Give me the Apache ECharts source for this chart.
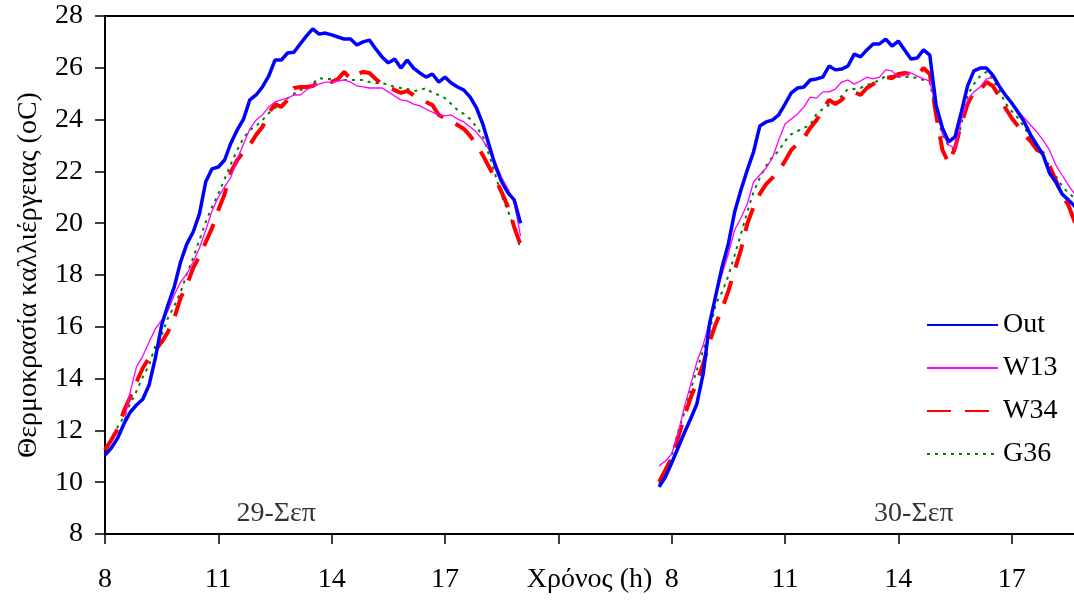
<!DOCTYPE html>
<html><head><meta charset="utf-8">
<script src="https://cdn.jsdelivr.net/npm/echarts@6/dist/echarts.min.js"></script>
<style>html,body{margin:0;padding:0;background:#fff}#c{width:1074px;height:600px}</style>
</head><body><div id="c"></div>
<script>
// ---- data ----
const seriesNames = ['Out', 'W13', 'W34', 'G36'];
const seriesColors = ['#0000FF', '#FF00FF', '#FF0000', '#008000'];
const day1StartHour = 8;          // 29-Σεπ, 08:00 .. 19:00
const day2StartHour = 7 + 40 / 60; // 30-Σεπ, 07:40 ..
const sampleStepHours = 10 / 60;
const day2AxisShift = 15;          // axis offset of day 2 (overnight gap compressed)
const tickLabels = ['8', '11', '14', '17', '', '8', '11', '14', '17'];
const dayLabels = [
  { name: '29-Σεπ', value: [4.53, 8.8] },
  { name: '30-Σεπ', value: [21.41, 8.8] }
];

const day1Out = [11.05,11.32,11.7,12.25,12.7,12.98,13.2,13.75,14.8,16.07,16.84,17.54,18.5,19.2,19.66,20.36,21.6,22.1,22.17,22.44,23.1,23.6,24.02,24.76,24.95,25.26,25.68,26.3,26.3,26.57,26.6,26.92,27.23,27.5,27.3,27.34,27.27,27.19,27.11,27.11,26.88,27.0,27.07,26.73,26.42,26.19,26.34,25.99,26.3,25.99,25.8,25.64,25.76,25.45,25.64,25.41,25.26,25.14,24.87,24.45,23.83,23.02,22.21,21.6,21.17,20.9,20.0];
const day1W13 = [11.05,11.28,11.63,12.29,13.48,14.45,14.87,15.41,15.92,16.26,16.61,17.23,17.73,18.04,18.5,19.04,19.74,20.47,21.01,21.4,21.78,22.48,23.06,23.64,23.98,24.18,24.49,24.68,24.76,24.83,24.95,24.95,25.14,25.3,25.37,25.45,25.45,25.49,25.53,25.45,25.3,25.26,25.22,25.22,25.22,25.07,24.91,24.76,24.72,24.6,24.53,24.41,24.29,24.18,24.14,24.18,24.02,23.91,23.71,23.52,23.21,22.83,22.36,21.75,21.32,20.78,19.5];
const day1W34 = [11.24,11.63,12.05,12.75,13.29,13.87,14.41,14.8,15.1,15.41,15.8,16.34,17.11,17.61,18.27,18.73,19.27,19.81,20.51,21.13,21.98,22.44,22.75,23.02,23.41,23.71,24.25,24.6,24.49,24.76,25.22,25.26,25.26,25.3,25.45,25.49,25.45,25.57,25.84,25.57,25.76,25.84,25.8,25.57,25.37,25.26,25.14,25.03,25.1,24.95,24.8,24.68,24.56,24.18,24.06,23.95,23.79,23.64,23.37,23.02,22.63,22.17,21.71,21.2,20.63,19.85,19.16];
const day1G36 = [11.28,11.63,12.13,12.52,13.02,13.52,14.06,14.53,15.26,15.68,16.34,16.8,17.34,18.04,18.66,19.35,20.05,20.63,21.13,21.71,22.29,22.83,23.29,23.6,23.75,23.98,24.25,24.45,24.56,24.83,24.99,25.14,25.22,25.41,25.6,25.57,25.57,25.53,25.53,25.53,25.53,25.53,25.45,25.41,25.41,25.34,25.26,25.22,25.18,25.1,25.14,25.22,25.03,24.95,24.83,24.6,24.37,24.22,24.02,23.71,23.37,22.63,21.86,21.05,20.47,19.85,19.0];

const day2Out = [9.82,10.2,10.74,11.32,11.9,12.44,13.02,14.18,16.1,17.2,18.3,19.2,20.43,21.28,22.05,22.75,23.75,23.91,23.98,24.18,24.6,25.03,25.22,25.26,25.53,25.57,25.64,26.07,25.92,25.95,26.07,26.53,26.42,26.69,26.92,26.92,27.11,26.84,27.03,26.69,26.34,26.38,26.69,26.49,24.56,23.68,23.14,23.33,24.29,25.3,25.88,25.99,25.99,25.72,25.3,24.95,24.64,24.29,23.91,23.41,23.02,22.63,21.94,21.59,21.13,20.9,20.66,20.3];
const day2W13 = [10.63,10.82,11.09,11.86,12.9,13.75,14.64,15.3,16.19,17.23,18.04,18.81,19.74,20.2,20.74,21.59,21.86,22.13,22.52,23.21,23.83,24.02,24.22,24.49,24.87,24.83,25.07,25.07,25.18,25.45,25.53,25.37,25.49,25.64,25.57,25.64,25.92,25.88,25.64,25.72,25.8,25.68,25.57,25.49,24.45,23.44,23.02,22.9,23.98,24.76,25.07,25.26,25.57,25.64,25.3,24.91,24.64,24.33,24.06,23.79,23.52,23.21,22.83,22.25,21.86,21.47,21.13,20.7];
const day2W34 = [10.01,10.47,10.94,11.71,12.52,13.25,13.87,14.56,15.41,16.11,16.69,17.38,18.19,18.97,19.97,20.63,21.13,21.51,21.75,22.02,22.4,22.83,23.06,23.29,23.68,23.98,24.37,24.76,24.6,24.76,25.03,25.07,24.95,25.22,25.37,25.57,25.64,25.6,25.76,25.8,25.76,25.68,25.99,25.76,24.18,22.83,22.32,22.9,23.83,24.6,25.07,25.14,25.45,25.3,24.91,24.45,24.06,23.75,23.41,23.17,22.83,22.71,22.21,21.67,21.09,20.7,20.05,19.5];
const day2G36 = [9.93,10.43,11.01,11.94,12.67,13.56,14.33,15.1,15.8,16.88,17.34,17.96,18.77,19.58,20.43,21.2,21.75,22.21,22.56,22.79,23.17,23.44,23.56,23.68,23.79,24.22,24.41,24.56,24.68,24.91,25.18,25.18,25.22,25.34,25.41,25.53,25.68,25.68,25.64,25.64,25.64,25.61,25.53,25.45,24.25,23.41,22.98,22.83,23.79,24.95,25.37,25.68,25.84,25.57,25.14,24.64,24.33,24.06,23.71,23.29,22.86,22.63,22.21,21.82,21.44,21.17,20.97,20.7];

// ---- build ----
const day1 = [day1Out, day1W13, day1W34, day1G36];
const day2 = [day2Out, day2W13, day2W34, day2G36];
const lineStyles = [
  { width: 3.5, type: 'solid' },
  { width: 1.3, type: 'solid' },
  { width: 4, type: [24, 14] },
  { width: 2, type: [3, 5] }
];
function toPoints(d1, d2) {
  const pts = [];
  d1.forEach((v, i) => pts.push([day1StartHour + i * sampleStepHours - 8, v]));
  pts.push([12, null]);
  d2.forEach((v, i) => pts.push([day2StartHour + i * sampleStepHours - 8 + day2AxisShift, v]));
  return pts;
}
const FONT = 'Liberation Serif';
const FS = 28;
const xMax = 25.65;
const series = seriesNames.map((n, i) => ({
  name: n, type: 'line', data: toPoints(day1[i], day2[i]),
  showSymbol: false, symbol: 'none', connectNulls: false, animation: false,
  color: seriesColors[i],
  lineStyle: { color: seriesColors[i], width: lineStyles[i].width, type: lineStyles[i].type },
  z: 10 - i
}));
series.push({
  type: 'scatter', data: dayLabels, symbolSize: 0, animation: false, silent: true,
  label: { show: true, position: 'inside', formatter: p => p.name,
           color: '#000', fontFamily: FONT, fontSize: FS }
});

const chart = echarts.init(document.getElementById('c'), null, { renderer: 'canvas' });
chart.setOption({
  backgroundColor: '#fff',
  animation: false,
  textStyle: { fontFamily: FONT, color: '#000' },
  grid: { left: 105, right: 0, top: 16, bottom: 66, containLabel: false, outerBoundsMode: 'none' },
  legend: {
    data: seriesNames, orient: 'vertical', left: 921, top: 306,
    itemWidth: 71, itemHeight: 14, itemGap: 15,
    itemStyle: { color: 'transparent', borderWidth: 0, opacity: 0 },
    textStyle: { fontFamily: FONT, fontSize: FS, color: '#000', padding: [0, 0, 0, 0] }
  },
  xAxis: [{
    type: 'value', min: 0, max: xMax, interval: 3,
    name: 'Χρόνος (h)', nameLocation: 'middle', nameGap: 32, nameMoveOverlap: false,
    nameTextStyle: { fontFamily: FONT, fontSize: FS, color: '#000' },
    axisLine: { show: true, onZero: false, lineStyle: { color: '#000', width: 2 } },
    axisTick: { show: true, inside: false, length: 10, lineStyle: { color: '#000', width: 1.5 } },
    axisLabel: { margin: 32, fontFamily: FONT, fontSize: FS, color: '#000', showMaxLabel: false,
      formatter: v => { const k = v / 3; return Number.isInteger(k) && k < tickLabels.length ? tickLabels[k] : ''; } },
    splitLine: { show: false }
  }, {
    type: 'value', position: 'top', min: 0, max: xMax,
    axisLine: { show: true, onZero: false, lineStyle: { color: '#000', width: 2 } },
    axisTick: { show: false }, axisLabel: { show: false }, splitLine: { show: false }
  }],
  yAxis: {
    type: 'value', min: 8, max: 28, interval: 2,
    name: 'Θερμοκρασία καλλιέργειας (oC)', nameLocation: 'middle', nameGap: 62, nameMoveOverlap: false,
    nameTextStyle: { fontFamily: FONT, fontSize: FS, color: '#000' },
    axisLine: { show: true, onZero: false, lineStyle: { color: '#000', width: 2 } },
    axisTick: { show: true, inside: false, length: 10, lineStyle: { color: '#000', width: 1.5 } },
    axisLabel: { margin: 22, fontFamily: FONT, fontSize: FS, color: '#000' },
    splitLine: { show: false }
  },
  series: series
});
</script></body></html>
